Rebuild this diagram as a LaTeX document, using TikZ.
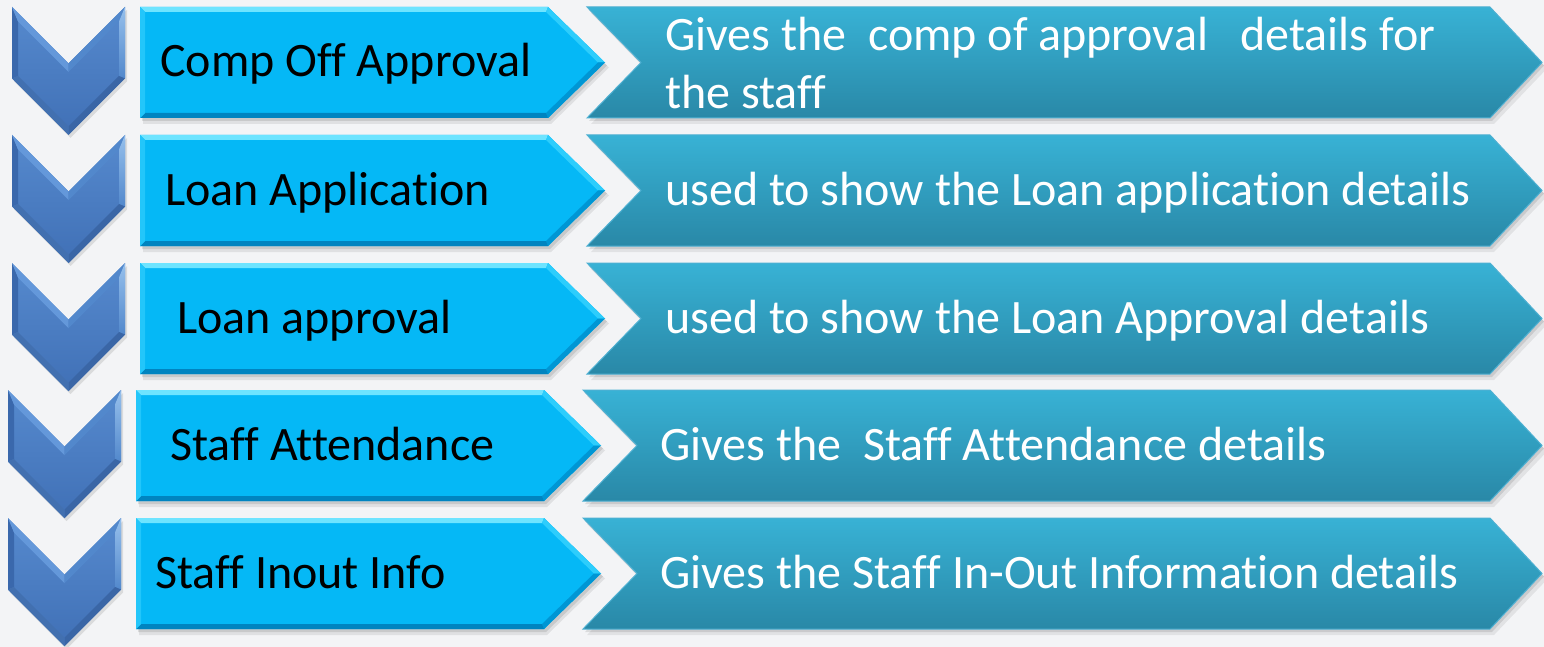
\documentclass[tikz,border=0pt]{standalone}
\usepackage{fontspec}
\setmainfont{Carlito}[Ligatures={NoCommon,NoContextual}]
\definecolor{bg}{RGB}{243,244,246}
\definecolor{chevtop}{RGB}{86,138,206}
\definecolor{chevbot}{RGB}{64,112,182}
\definecolor{chevFA}{RGB}{58,104,172}
\definecolor{chevAB}{RGB}{100,152,218}
\definecolor{chevBC}{RGB}{82,136,204}
\definecolor{chevCD}{RGB}{150,192,236}
\definecolor{chevDE}{RGB}{58,102,166}
\definecolor{chevEF}{RGB}{66,112,176}
\definecolor{lbmain}{RGB}{5,184,246}
\definecolor{lbtop}{RGB}{110,228,255}
\definecolor{lbud}{RGB}{45,205,252}
\definecolor{lbld}{RGB}{0,150,212}
\definecolor{lbbot}{RGB}{0,132,192}
\definecolor{lbleft}{RGB}{35,198,250}
\definecolor{ratop}{RGB}{56,178,213}
\definecolor{rabot}{RGB}{41,136,167}
\definecolor{raedge}{RGB}{78,176,210}
\tikzset{
  lefttext/.style={anchor=base west, inner sep=0pt, font=\fontsize{48}{58}\selectfont, text=black},
  righttext/.style={anchor=base west, inner sep=0pt, font=\fontsize{48}{58}\selectfont, text=white},
  shadowfill/.style={fill=black, fill opacity=#1, draw=none},
}
\newcommand{\drawchev}[2]{%
 \begin{scope}[shift={(#1,#2)}]
  \fill[shadowfill=0.10] (2,3) -- (58.5,59.5) -- (115,3) -- (115,74.5) -- (58.5,131) -- (2,74.5) -- cycle;
  \shade[top color=chevtop,bottom color=chevbot] (0,0) -- (56.5,56.5) -- (113,0) -- (113,71.5) -- (56.5,128) -- (0,71.5) -- cycle;
  \fill[chevFA] (0,71.5) -- (0,0) -- (6,14.5) -- (6,69) -- cycle;
  \fill[chevAB] (0,0) -- (56.5,56.5) -- (56.5,65) -- (6,14.5) -- cycle;
  \fill[chevBC] (56.5,56.5) -- (113,0) -- (107,14.5) -- (56.5,65) -- cycle;
  \shade[top color=chevCD, bottom color=chevBC] (113,0) -- (113,71.5) -- (107,69) -- (107,14.5) -- cycle;
  \fill[chevDE] (113,71.5) -- (56.5,128) -- (56.5,119.5) -- (107,69) -- cycle;
  \fill[chevEF] (56.5,128) -- (0,71.5) -- (6,69) -- (56.5,119.5) -- cycle;
 \end{scope}}
\newcommand{\drawlbox}[2]{%
 \begin{scope}[shift={(#1,#2)}]
  \fill[shadowfill=0.08] (3,5) -- (411,5) -- (469,60.5) -- (411,117) -- (3,117) -- cycle;
  \fill[shadowfill=0.10] (2,3) -- (410,3) -- (467,58.5) -- (410,114) -- (2,114) -- cycle;
  \fill[lbmain] (0,0) -- (408,0) -- (465,55.5) -- (408,111) -- (0,111) -- cycle;
  \fill[lbtop] (0,0) -- (408,0) -- (406,5) -- (5,5) -- cycle;
  \fill[lbud] (408,0) -- (465,55.5) -- (458,55.5) -- (406,5) -- cycle;
  \fill[lbld] (465,55.5) -- (408,111) -- (406,106) -- (458,55.5) -- cycle;
  \fill[lbbot] (408,111) -- (0,111) -- (5,106) -- (406,106) -- cycle;
  \fill[lbleft] (0,111) -- (0,0) -- (5,5) -- (5,106) -- cycle;
 \end{scope}}
\newcommand{\drawrarr}[3]{%
 \begin{scope}[shift={(#1,#2)}]
  \fill[shadowfill=0.07] (4,6) -- (#3+4,6) -- (#3+57,61.5) -- (#3+4,117) -- (4,117) -- (58,61.5) -- cycle;
  \fill[shadowfill=0.10] (2,3) -- (#3+2,3) -- (#3+54,58.5) -- (#3+2,114) -- (2,114) -- (56,58.5) -- cycle;
  \shade[top color=ratop, bottom color=rabot, draw=raedge, line width=1pt] (0,0) -- (#3,0) -- (#3+52,55.5) -- (#3,111) -- (0,111) -- (54,55.5) -- cycle;
 \end{scope}}
\begin{document}
\begin{tikzpicture}[x=1pt,y=-1pt]
\useasboundingbox (0,0) rectangle (1544,647);
\fill[bg] (0,0) rectangle (1544,647);
% row 1
\drawchev{12}{7}
\drawlbox{140}{7}
\drawrarr{587}{7}{903}
% row 2
\drawchev{12}{135}
\drawlbox{140}{135}
\drawrarr{587}{135}{903}
% row 3
\drawchev{12}{263}
\drawlbox{140}{263}
\drawrarr{587}{263}{903}
% row 4
\drawchev{8}{390}
\drawlbox{136}{390}
\drawrarr{583}{390}{907}
% row 5
\drawchev{8}{518}
\drawlbox{136}{518}
\drawrarr{583}{518}{907}
% texts
\node[lefttext] (l1) at (160,77) {Comp Off Approval};
\node[lefttext] (l2) at (165,205) {Loan Application};
\node[lefttext] (l3) at (177,333) {Loan approval};
\node[lefttext] (l4) at (170,460.5) {Staff Attendance};
\node[lefttext] (l5) at (155,588.5) {Staff Inout Info};
\node[righttext, anchor=west, align=left] (r1) at (665,63) {Gives the\ \ comp of approval\ \ \ details for\\the staff};
\node[righttext] (r2) at (665,205) {used to show the Loan application details};
\node[righttext] (r3) at (665,333) {used to show the Loan Approval details};
\node[righttext] (r4) at (660,460.5) {Gives the\ \ Staff Attendance details};
\node[righttext] (r5) at (660,588.5) {Gives the Staff In-Out Information details};
\end{tikzpicture}
\end{document}
